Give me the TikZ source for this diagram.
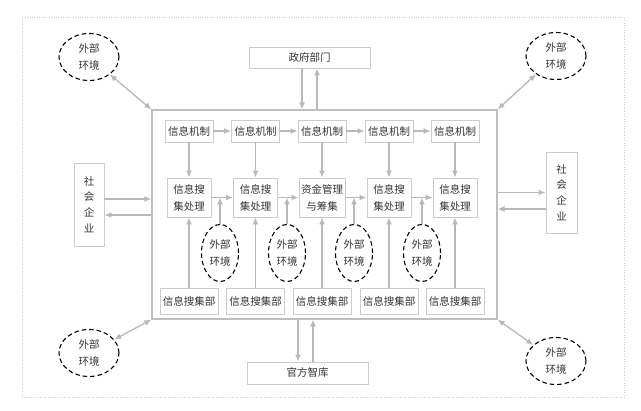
\documentclass[tikz,border=0pt]{standalone}
\usepackage{fontspec}
\newfontfamily\cjk{Noto Sans CJK SC}
\usepackage{tikz}
\usetikzlibrary{arrows.meta,shapes.geometric}

\definecolor{boxgray}{gray}{0.8}
\definecolor{arrgray}{gray}{0.72}
\definecolor{txtgray}{gray}{0.2}

\tikzset{
	box/.style={draw=boxgray,line width=0.9pt,text=txtgray,font=\cjk\fontsize{10.5}{17}\selectfont,align=center,inner sep=0pt,inner xsep=2pt},
	env/.style={ellipse,draw=black,line width=1.1pt,dash pattern=on 4.5pt off 3pt,text=txtgray,font=\cjk\fontsize{10.5}{17}\selectfont,align=center,inner sep=0pt},
	link/.style={draw=arrgray,line width=1.3pt}
}

\begin{document}
\begin{tikzpicture}[>={Latex[length=7pt,width=6pt]}, x=1pt, y=-1pt]
			\useasboundingbox (0,0) rectangle (641,411);
			\draw[gray!40,dotted] (22,17) rectangle (624,397);
			\node[draw=black!25,line width=1.2pt,minimum width=345pt,minimum height=209pt] (main) at (324.5,214.5) {};
			\foreach \x/\t [count=\i] in {189/{信息搜\\集处理},255.5/{信息搜\\集处理},322/{资金管理\\与筹集},389/{信息搜\\集处理},455/{信息搜\\集处理}} {
				\node[box,minimum width=48pt,minimum height=22pt] (m\i) at (\x,131) {信息机制};
				\node[box,minimum width=44pt,minimum height=39pt] (p\i) at (\x,197.5) {\t};
				\node[box,minimum width=58pt,minimum height=26pt] (c\i) at (\x,301) {信息搜集部};
			}
			\foreach \i [count=\j from 2] in {1,...,4} {
				\draw[link,->] (m\i) -- (m\j);
				\draw[link,->] (p\i) -- (p\j);
			}
			\foreach \i in {1,...,5} {
				\draw[link,->] (m\i) -- (p\i);
				\draw[link,->] (c\i) -- (p\i);
			}
			\foreach \x [count=\i] in {220,287,354,422}
				\node[env,minimum width=37pt,minimum height=57pt] (e\i) at (\x,253) {外部\\环境};
			\foreach \i in {1,...,4}
				\draw[link,->] (e\i) -- (e\i |- p\i.east);

			\node[box,minimum width=121pt,minimum height=21pt] (gov) at (309.5,57.5) {政府部门};
			\draw[link,->] ([xshift=-7.5pt]gov.south) -- ([xshift=-7.5pt]gov.south |- main.north);
			\draw[link,->] ([xshift=7.5pt]gov.south |- main.north) -- ([xshift=7.5pt]gov.south);
			\node[box,minimum width=121pt,minimum height=22pt] (tank) at (307.5,373) {官方智库};
			\draw[link,->] ([xshift=-9.5pt]tank.north |- main.south) -- ([xshift=-9.5pt]tank.north);
			\draw[link,->] ([xshift=5.5pt]tank.north) -- ([xshift=5.5pt]tank.north |- main.south);

			\node[box,minimum width=30pt,minimum height=83pt,font=\cjk\fontsize{10.5}{15.7}\selectfont] (entl) at (89,204.5) {社\\会\\企\\业};
			\draw[link,->] ([yshift=5.5pt]entl.east) -- ([yshift=5.5pt]entl.east -| main.west);
			\draw[link,->] ([yshift=-10.5pt]entl.east -| main.west) -- ([yshift=-10.5pt]entl.east);
			\node[box,minimum width=31pt,minimum height=81pt,font=\cjk\fontsize{10.5}{15.7}\selectfont] (entr) at (561.5,192.5) {社\\会\\企\\业};
			\draw[link,->] (entr.west -| main.east) -- (entr.west);
			\draw[link,->] ([yshift=-16.5pt]entr.west) -- ([yshift=-16.5pt]entr.west -| main.east);

			\foreach \x/\y/\a [count=\i] in {89/57/north west,556/56/north east,89/353/south west,556/361/south east} {
				\node[env,minimum width=60pt,minimum height=47pt] (o\i) at (\x,\y) {外部\\环境};
				\draw[link,<->] (o\i) -- (main.\a);
			}
		\end{tikzpicture}
\end{document}
